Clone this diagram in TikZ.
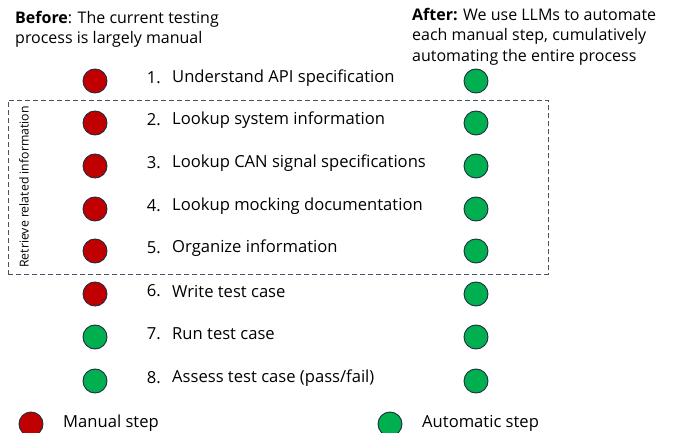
\documentclass[tikz,border=0pt]{standalone}
\usepackage{fontspec}
\setmainfont{Open Sans}
\definecolor{redc}{HTML}{C00000}
\definecolor{greenc}{HTML}{00B050}
\definecolor{edgec}{HTML}{1F2D3D}
\definecolor{boxc}{HTML}{44546A}
\begin{document}
\begin{tikzpicture}[x=1pt,y=-1pt,
  dot/.style={circle,draw=edgec,line width=0.9pt,minimum size=24pt,inner sep=0pt},
  man/.style={dot,fill=redc},
  aut/.style={dot,fill=greenc},
  itemtxt/.style={anchor=west,inner sep=0pt,font=\fontsize{16.6}{18}\selectfont},
  numtxt/.style={anchor=east,inner sep=0pt,font=\fontsize{16.6}{18}\selectfont},
  head/.style={anchor=north west,inner sep=0pt,align=left,font=\fontsize{16}{20.5}\selectfont},
  legtxt/.style={anchor=west,inner sep=0pt,font=\fontsize{16.6}{18}\selectfont}]
\useasboundingbox (0,0) rectangle (673,433);
\node[head] (before) at (15,11) {\textbf{Before}: The current testing\\process is largely manual};
\node[head] (after) at (412,8) {\textbf{After:} We use LLMs to automate\\each manual step, cumulatively\\automating the entire process};
\foreach \i/\y/\t/\s in {1/81/{Understand API specification}/man,
  2/123/{Lookup system information}/man,
  3/166/{Lookup CAN signal specifications}/man,
  4/209/{Lookup mocking documentation}/man,
  5/251/{Organize information}/man,
  6/294/{Write test case}/man,
  7/337/{Run test case}/aut,
  8/381/{Assess test case (pass/fail)}/aut}{
  \node[\s] (l\i) at (95,\y) {};
  \node[aut] (r\i) at (476,\y) {};
  \node[numtxt] (n\i) at (161,\y-3) {\i.};
  \node[itemtxt] (t\i) at (172,\y-3) {\t};
}
\node[draw=boxc,dash pattern=on 5pt off 3pt,line width=0.9pt,minimum width=540pt,minimum height=174pt,anchor=north west,inner sep=0pt] (box) at (8,100) {};
\node[rotate=90,inner sep=0pt,font=\fontsize{12.3}{14}\selectfont] (ret) at (24,187) {Retrieve related information};
\node[man] (lm) at (31,424) {};
\node[legtxt] (lmt) at (63,423) {Manual step};
\node[aut] (la) at (390,424) {};
\node[legtxt] (lat) at (422,423) {Automatic step};
\end{tikzpicture}
\end{document}
